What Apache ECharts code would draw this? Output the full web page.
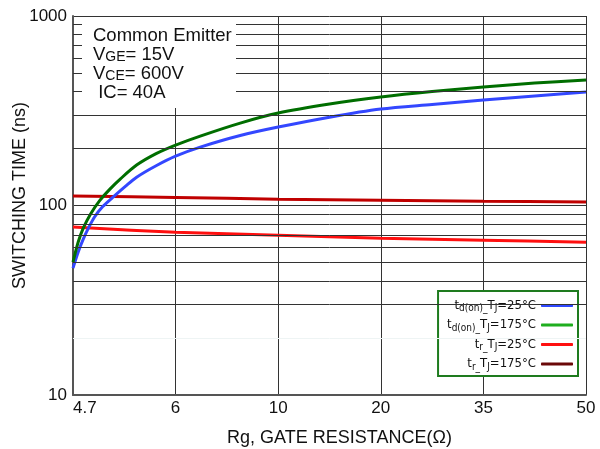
<!DOCTYPE html>
<html>
<head>
<meta charset="utf-8">
<script src="https://cdn.jsdelivr.net/npm/echarts@6/dist/echarts.min.js"></script>
<style>
  html, body { margin: 0; padding: 0; background: #fff; }
  #main { width: 600px; height: 449px; }
</style>
</head>
<body>
<div id="main"></div>
<script>
// Rg axis is drawn with evenly spaced labels, so x values are positions along it (0 = 4.7 ohm ... 5 = 50 ohm)
const rgLabels = ['4.7', '6', '10', '20', '35', '50'];
const yTicks = [10, 100, 1000];
const minorGrid = [30, 40, 50, 60, 70, 80, 90, 200, 300, 400, 500, 600, 700, 800, 900];

// td(on), Tj = 25C
const tdon25X = [0, 0.05, 0.1, 0.15, 0.21, 0.29, 0.39, 0.51, 0.62, 0.81, 1, 1.24, 1.63, 2, 2.5, 3, 3.5, 4, 4.5, 5];
const tdon25Y = [46.7, 56.7, 66.4, 75.9, 87.0, 98.7, 110.7, 126.2, 141.1, 162.2, 182.2, 203.3, 234.1, 259.3, 292.5, 322.8, 341.3, 360, 378, 396.8];
// td(on), Tj = 175C
const tdon175X = [0, 0.05, 0.1, 0.17, 0.26, 0.36, 0.46, 0.62, 0.81, 1, 1.24, 1.63, 2, 2.5, 3, 3.5, 4, 4.5, 5];
const tdon175Y = [50.2, 64.0, 75.9, 90.0, 106.1, 122.0, 137.8, 163.4, 187.8, 208.3, 232.4, 272.2, 307.4, 342.9, 373.4, 399.3, 421.7, 442.7, 459.2];
// tr
const trX = [0, 1, 2, 3, 4, 5];
const tr25Y = [76.9, 72.3, 69.7, 67.2, 65.6, 64.0];
const tr175Y = [112.4, 110.3, 108.0, 106.7, 105.4, 104.5];

const names = ['td(on)_TJ=25°C', 'td(on)_TJ=175°C', 'tr_TJ=25°C', 'tr_TJ=175°C'];
const legendText = {
    'td(on)_TJ=25°C': '{m|t}{s|d(on)_}{m|T}{s|J}{m|=25°C}',
    'td(on)_TJ=175°C': '{m|t}{s|d(on)_}{m|T}{s|J}{m|=175°C}',
    'tr_TJ=25°C': '{m|t}{s|r_}{m|T}{s|J}{m|=25°C}',
    'tr_TJ=175°C': '{m|t}{s|r_}{m|T}{s|J}{m|=175°C}'
};

const pairs = (xs, ys) => xs.map((x, i) => [x, ys[i]]);

const font = '"Liberation Sans", Arial, sans-serif';
const narrow = '"Liberation Sans Narrow", "DejaVu Sans Condensed", sans-serif';

const myChart = echarts.init(document.getElementById('main'));

function curve(name, color, data) {
    return {
        name: name,
        type: 'line',
        data: data,
        smooth: 0.3,
        showSymbol: false,
        symbol: 'none',
        z: 3,
        lineStyle: { color: color, width: 3 },
        itemStyle: { color: color },
        animation: false
    };
}

const option = {
    animation: false,
    grid: { left: 73, right: 14, top: 16, bottom: 54, outerBoundsMode: 'none' },
    xAxis: {
        type: 'value',
        min: 0,
        max: 5,
        interval: 1,
        name: 'Rg, GATE RESISTANCE(Ω)',
        nameLocation: 'middle',
        nameGap: 34,
        nameTextStyle: { fontFamily: font, fontSize: 18, color: '#111', padding: [0, 0, 0, 20] },
        axisLine: { lineStyle: { color: '#555', width: 2 } },
        axisTick: { show: false },
        axisLabel: {
            fontFamily: font, fontSize: 17, color: '#111', margin: 5,
            alignMinLabel: 'left',
            formatter: v => rgLabels[Math.round(v)]
        },
        splitLine: { show: true, lineStyle: { color: '#333', width: 1 } }
    },
    yAxis: {
        type: 'log',
        logBase: 10,
        min: 10,
        max: 1000,
        name: 'SWITCHING TIME (ns)',
        nameLocation: 'middle',
        nameMoveOverlap: false,
        nameGap: 44,
        nameTextStyle: { fontFamily: font, fontSize: 18, color: '#111', padding: [0, 0, 0, 20] },
        axisLine: { show: true, lineStyle: { color: '#555', width: 2 } },
        axisTick: { show: false },
        axisLabel: {
            fontFamily: font, fontSize: 17, color: '#111', margin: 6,
            formatter: v => String(yTicks.find(t => Math.abs(t - v) < 1) || Math.round(v))
        },
        splitLine: { show: true, lineStyle: { color: '#333', width: 1 } }
    },
    legend: {
        orient: 'vertical',
        right: 22,
        top: 291,
        align: 'right',
        icon: 'roundRect',
        backgroundColor: '#fff',
        borderColor: '#1e7b1e',
        borderWidth: 2,
        borderRadius: 0,
        padding: [8, 5, 4, 9],
        itemGap: 5,
        itemWidth: 32,
        itemHeight: 3,
        formatter: name => legendText[name],
        textStyle: {
            color: '#111',
            fontFamily: narrow,
            fontSize: 13,
            rich: {
                m: { fontFamily: narrow, fontSize: 13, lineHeight: 16, color: '#111' },
                s: { fontFamily: narrow, fontSize: 10, lineHeight: 8, verticalAlign: 'bottom', color: '#111' }
            }
        },
        data: [
            { name: names[0], itemStyle: { color: '#2f48ff' } },
            { name: names[1], itemStyle: { color: '#1fae1f' } },
            { name: names[2], itemStyle: { color: '#ff1010' } },
            { name: names[3], itemStyle: { color: '#6a0808' } }
        ]
    },
    graphic: [
        {
            type: 'rect',
            z: 100,
            shape: { x: 82, y: 17, width: 154, height: 91 },
            style: { fill: '#fff' }
        },
        {
            type: 'text',
            z: 101,
            left: 93,
            top: 26,
            style: {
                text: '{a|Common Emitter}\n{a|V}{s|GE}{a|= 15V}\n{a|V}{s|CE}{a|= 600V}\n{a| IC= 40A}',
                fill: '#111',
                rich: {
                    a: { fontFamily: font, fontSize: 18.5, lineHeight: 19, fill: '#111' },
                    s: { fontFamily: font, fontSize: 14, lineHeight: 11, verticalAlign: 'bottom', fill: '#111' }
                }
            }
        }
    ],
    series: [
        {
            name: 'grid',
            type: 'line',
            data: [],
            z: 1,
            silent: true,
            markLine: {
                silent: true,
                symbol: ['none', 'none'],
                label: { show: false },
                animation: false,
                lineStyle: { type: 'solid', color: '#333', width: 1 },
                data: minorGrid.map(v => ({ yAxis: v })).concat([{ yAxis: 20, lineStyle: { color: '#eef4f4' } }])
            }
        },
        curve(names[3], '#c00000', pairs(trX, tr175Y)),
        curve(names[2], '#ff1010', pairs(trX, tr25Y)),
        curve(names[0], '#3347ff', pairs(tdon25X, tdon25Y)),
        curve(names[1], '#006e00', pairs(tdon175X, tdon175Y))
    ]
};

myChart.setOption(option);
</script>
</body>
</html>
